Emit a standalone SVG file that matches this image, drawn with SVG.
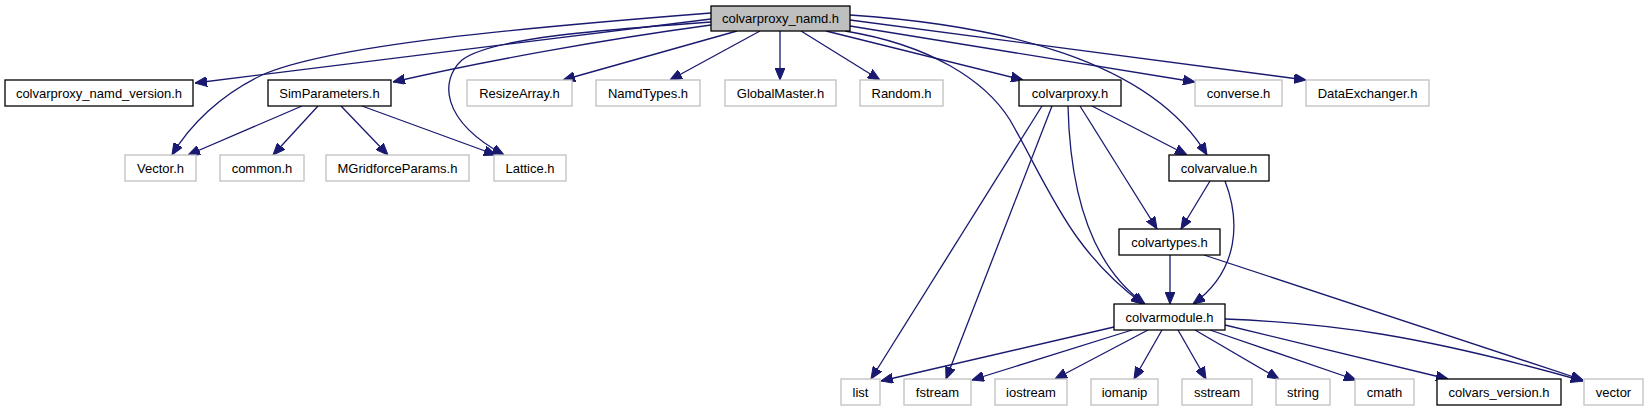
<svg xmlns="http://www.w3.org/2000/svg" width="1649" height="411" viewBox="0 0 1649 411">
<style>
  .n rect { fill: #ffffff; stroke: #000000; stroke-width: 1.3; }
  .n.u rect { stroke: #bfbfbf; }
  .n.root rect { fill: #bfbfbf; stroke: #000000; }
  .n text { font-family: "Liberation Sans", Arial, Helvetica, sans-serif; font-size: 13px; fill: #000000; text-anchor: middle; }
  #edges path { fill: none; stroke: #191970; stroke-width: 1.3; marker-end: url(#ah); }
</style>
<defs>
  <marker id="ah" markerUnits="userSpaceOnUse" viewBox="0 0 12 10" refX="12" refY="5" markerWidth="12" markerHeight="10" orient="auto">
    <path d="M0,0 L12,5 L0,10 z" fill="#191970" stroke="#191970" stroke-width="1"/>
  </marker>
</defs>
<rect width="1649" height="411" fill="#ffffff"/>
<g id="edges">
  <path d="M711,19 C600,32 400,58 195,83"/>
  <path d="M711,25 C600,40 480,62 393,82"/>
  <path d="M711,13 C520,28 330,45 262,75 C220,95 190,125 172,155"/>
  <path d="M711,22 C600,30 490,38 462,60 C440,80 440,120 504,155"/>
  <path d="M737,31 L563,80"/>
  <path d="M760,31 L670,80"/>
  <path d="M780,31 L780,80"/>
  <path d="M801,31 L880,80"/>
  <path d="M826,31 L1023,80"/>
  <path d="M850,26 L1195,82"/>
  <path d="M850,20 L1306,80"/>
  <path d="M850,15 C1000,25 1150,60 1207,155"/>
  <path d="M845,31 C930,45 985,80 1010,120 C1050,190 1070,250 1143,304"/>
  <path d="M302,106 L188,155"/>
  <path d="M318,106 L273,155"/>
  <path d="M341,106 L388,155"/>
  <path d="M362,106 L496,155"/>
  <path d="M1042,106 L871,379"/>
  <path d="M1052,106 L946,379"/>
  <path d="M1068,106 C1070,190 1090,265 1145,304"/>
  <path d="M1080,106 L1157,229"/>
  <path d="M1092,106 L1187,155"/>
  <path d="M1210,181 L1181,229"/>
  <path d="M1225,181 C1240,220 1240,270 1193,304"/>
  <path d="M1170,255 L1170,304"/>
  <path d="M1204,255 L1583,380"/>
  <path d="M1114,327 L881,381"/>
  <path d="M1132,330 L972,380"/>
  <path d="M1148,330 L1055,379"/>
  <path d="M1162,330 L1134,379"/>
  <path d="M1178,330 L1206,379"/>
  <path d="M1195,330 L1279,379"/>
  <path d="M1210,330 L1356,380"/>
  <path d="M1225,325 L1448,379"/>
  <path d="M1225,319 C1330,323 1420,335 1583,381"/>
</g>
<g id="n_colvarproxy_namd" class="n root"><rect x="711" y="6" width="139" height="25"/><text x="780.5" y="23">colvarproxy_namd.h</text></g>
<g id="n_colvarproxy_namd_version" class="n"><rect x="5" y="80" width="188" height="26"/><text x="99" y="97.5">colvarproxy_namd_version.h</text></g>
<g id="n_SimParameters" class="n"><rect x="268" y="80" width="123" height="26"/><text x="329.5" y="97.5">SimParameters.h</text></g>
<g id="n_ResizeArray" class="n u"><rect x="467" y="80" width="105" height="26"/><text x="519.5" y="97.5">ResizeArray.h</text></g>
<g id="n_NamdTypes" class="n u"><rect x="596" y="80" width="104" height="26"/><text x="648" y="97.5">NamdTypes.h</text></g>
<g id="n_GlobalMaster" class="n u"><rect x="725" y="80" width="111" height="26"/><text x="780.5" y="97.5">GlobalMaster.h</text></g>
<g id="n_Random" class="n u"><rect x="860" y="80" width="83" height="26"/><text x="901.5" y="97.5">Random.h</text></g>
<g id="n_colvarproxy" class="n"><rect x="1019" y="80" width="102" height="26"/><text x="1070" y="97.5">colvarproxy.h</text></g>
<g id="n_converse" class="n u"><rect x="1195" y="80" width="87" height="26"/><text x="1238.5" y="97.5">converse.h</text></g>
<g id="n_DataExchanger" class="n u"><rect x="1306" y="80" width="123" height="26"/><text x="1367.5" y="97.5">DataExchanger.h</text></g>
<g id="n_Vector" class="n u"><rect x="125" y="155" width="71" height="26"/><text x="160.5" y="172.5">Vector.h</text></g>
<g id="n_common" class="n u"><rect x="220" y="155" width="84" height="26"/><text x="262" y="172.5">common.h</text></g>
<g id="n_MGridforceParams" class="n u"><rect x="326" y="155" width="143" height="26"/><text x="397.5" y="172.5">MGridforceParams.h</text></g>
<g id="n_Lattice" class="n u"><rect x="494" y="155" width="72" height="26"/><text x="530" y="172.5">Lattice.h</text></g>
<g id="n_colvarvalue" class="n"><rect x="1169" y="155" width="100" height="26"/><text x="1219" y="172.5">colvarvalue.h</text></g>
<g id="n_colvartypes" class="n"><rect x="1119" y="229" width="101" height="26"/><text x="1169.5" y="246.5">colvartypes.h</text></g>
<g id="n_colvarmodule" class="n"><rect x="1114" y="304" width="111" height="26"/><text x="1169.5" y="321.5">colvarmodule.h</text></g>
<g id="n_list" class="n u"><rect x="841" y="379" width="39" height="26"/><text x="860.5" y="396.5">list</text></g>
<g id="n_fstream" class="n u"><rect x="904" y="379" width="67" height="26"/><text x="937.5" y="396.5">fstream</text></g>
<g id="n_iostream" class="n u"><rect x="995" y="379" width="72" height="26"/><text x="1031" y="396.5">iostream</text></g>
<g id="n_iomanip" class="n u"><rect x="1091" y="379" width="67" height="26"/><text x="1124.5" y="396.5">iomanip</text></g>
<g id="n_sstream" class="n u"><rect x="1182" y="379" width="70" height="26"/><text x="1217" y="396.5">sstream</text></g>
<g id="n_string" class="n u"><rect x="1276" y="379" width="54" height="26"/><text x="1303" y="396.5">string</text></g>
<g id="n_cmath" class="n u"><rect x="1355" y="379" width="59" height="26"/><text x="1384.5" y="396.5">cmath</text></g>
<g id="n_colvars_version" class="n"><rect x="1437" y="379" width="124" height="26"/><text x="1499" y="396.5">colvars_version.h</text></g>
<g id="n_vector" class="n u"><rect x="1584" y="379" width="59" height="26"/><text x="1613.5" y="396.5">vector</text></g>
</svg>
